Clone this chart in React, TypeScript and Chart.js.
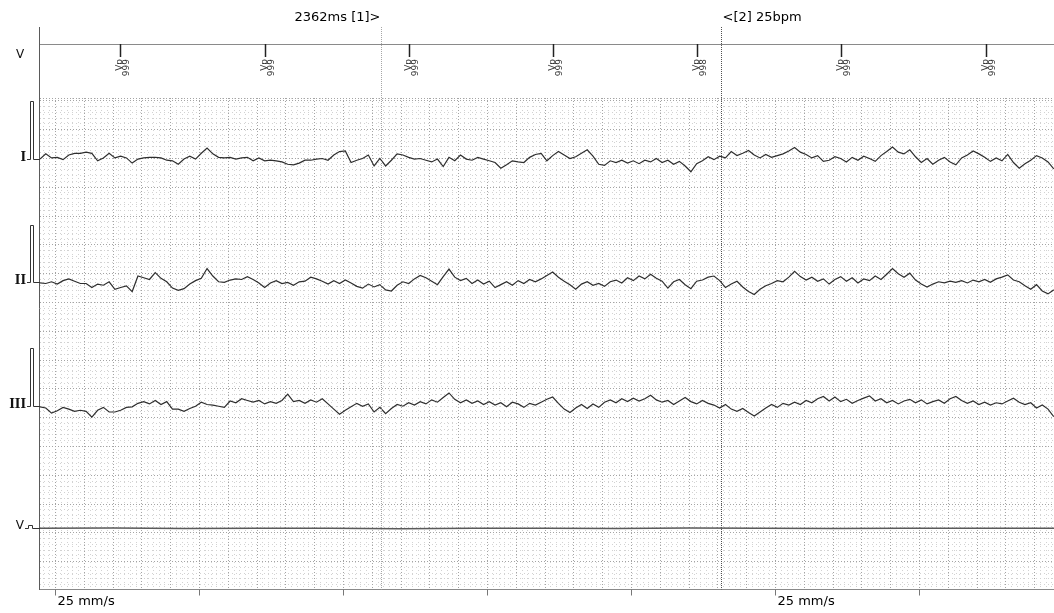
import React, { useEffect, useRef } from 'react';
import { Chart, registerables } from 'chart.js';

Chart.register(...registerables);

// ---------------- data ----------------
// ECG samples: one value every 0.04 s (1 mm at 25 mm/s), in mm (10 mm = 1 mV), up = positive
const SAMPLE_START_S = -0.104;
const SAMPLE_STEP_S = 0.04;

const leadI = [
  0, 0.9, 0.2, 0.3, -0.1, 0.7, 1.0, 1.0, 1.2, 1.0, -0.3, 0.2, 1.0, 0.2, 0.5, 0.2, -0.7, 0, 0.2, 0.3,
  0.3, 0.2, -0.2, -0.3, -0.9, 0, 0.5, 0, 1.0, 1.9, 0.9, 0.3, 0.2, 0.3, 0, 0.2, 0.3, -0.3, 0.2, -0.3,
  -0.2, -0.3, -0.5, -0.9, -1.0, -0.7,
  -0.2, -0.2, 0, 0.1, -0.2, 0.7, 1.3, 1.4, -0.6, -0.2, 0.1, 0.7, -1.2, 0.1, -1.2, -0.2, 0.9, 0.7, 0.3, 0,
  0.1, -0.2, -0.5, 0, -1.3, 0.3, -0.3, 0.7, 0, -0.2, 0.3, 0, -0.3, -0.6, -1.6, -1.0, -0.3, -0.5, -0.6, 0.3,
  0.8, 1.0, -0.3, 0.6, 1.3, 0.7, 0.1, 0.4, 1.0, 1.6, 0.5, -0.9,
  -1.1, -0.3, -0.6, -0.2, -0.7, -0.3, -0.8, -0.2, -0.5, 0.1, -0.6, -0.2, -0.9, -0.4, -1.2, -2.2, -0.8, -0.3, 0.4, -0.1,
  0.5, 0.2, 1.3, 0.6, 1.0, 1.5, 0.7, 0.2, 0.8, 0.3, 0.6, 0.9, 1.4, 2.0, 1.2, 0.8, 0.2, 0.6, -0.4, -0.2,
  0.4, 0.1, -0.5, 0.3, -0.2, 0.5, 0.1, -0.4, 0.6, 1.3, 2.1, 1.2, 0.9, 1.6, 0.4, -0.6, 0.1, -0.9, -0.2, 0.3,
  -0.5, -1.0, 0.2, 0.7, 1.4, 0.9, 0.3, -0.4, 0.2, -0.3, 0.8, -0.6, -1.6, -0.8, -0.2, 0.6, 0.2, -0.5, -1.7,
];

const leadII = [
  -0.1, -0.2, 0.1, -0.3, 0.3, 0.6, 0.2, -0.2, -0.2, -0.9, -0.3, -0.5, 0.1, -1.2, -0.9, -0.6, -1.6, 1.1, 0.8, 0.5,
  1.7, 0.7, 0.1, -1.0, -1.4, -1.1, -0.3, 0.3, 0.7, 2.4, 1.1, 0.1, 0, 0.4, 0.6, 0.5, 1.0, 0.5, -0.1, -0.9,
  -0.1, 0.3, -0.2, 0, -0.5, 0.1,
  0.2, 0.9, 0.6, 0.2, -0.3, 0.3, -0.2, 0.4, -0.1, -0.7, -1.0, -0.3, -0.8, -0.4, -1.3, -1.5, -0.5, 0.1, -0.2, 0.6,
  1.2, 0.8, 0.2, -0.4, 1.0, 2.3, 0.9, 0.3, 0.7, -0.2, 0.4, -0.3, 0.2, -0.9, -0.4, 0.1, -0.5, 0.3, -0.2, 0.5,
  0.1, 0.6, 1.2, 1.8, 0.9, 0.2, -0.4, -1.2, -0.3, 0.1, -0.5, -0.2,
  -0.7, 0.1, 0.4, -0.1, 0.8, 0.3, 1.1, 0.6, 1.4, 0.7, 0.2, -1.0, 0.1, 0.5, -0.4, -1.1, 0.2, 0.4, 0.9, 1.1,
  0.3, -0.9, -0.3, 0.2, -0.8, -1.6, -2.1, -1.2, -0.6, -0.2, 0.3, 0.1, 0.9, 1.9, 1.0, 0.4, 0.9, 0.2, 0.6, -0.3,
  0.5, 1.0, 0.2, 0.8, -0.1, 0.6, 0.3, 1.1, 0.5, 1.4, 2.4, 1.5, 0.9, 1.6, 0.4, -0.3, -0.8, -0.3, 0.1, -0.1,
  0.2, 0, 0.3, -0.1, 0.4, 0.1, 0.5, 0, 0.6, 0.9, 1.3, 0.4, 0.1, -0.6, -1.2, -0.4, -1.5, -2.0, -1.3,
];

const leadIII = [
  -0.2, -0.4, -1.3, -0.9, -0.3, -0.6, -1.0, -0.8, -1.0, -2.0, -0.8, -0.3, -1.1, -1.1, -0.8, -0.3, -0.2, 0.4, 0.7, 0.3,
  0.9, 0.2, 0.7, -0.6, -0.6, -1.0, -0.5, -0.1, 0.6, 0.2, 0.1, -0.1, -0.3, 0.8, 0.5, 1.2, 0.9, 0.6, 0.9, 0.3,
  0.7, 0.4, 0.9, 2.0, 0.7, 0.9,
  0.4, 1.0, 0.6, 1.2, 0.3, -0.6, -1.5, -0.8, -0.2, 0.4, -0.1, 0.3, -1.1, -0.3, -1.4, -0.5, 0.2, -0.1, 0.5, 0.1,
  0.7, 0.3, 1.0, 0.6, 1.4, 2.2, 1.1, 0.5, 1.0, 0.4, 0.8, 0.2, 0.7, 0.1, 0.5, -0.2, 0.6, 0.3, -0.3, 0.4,
  0.1, 0.6, 1.1, 1.5, 0.4, -0.6, -1.2, -0.4, 0.2, -0.5, 0.3, -0.3,
  0.6, 1.0, 0.5, 1.2, 0.7, 1.3, 0.8, 1.2, 1.8, 1.0, 0.6, 0.9, 0.2, 0.8, 1.4, 0.7, 0.3, 0.9, 0.4, 0.1,
  -0.4, 0.2, -0.6, -1.0, -0.5, -1.2, -1.8, -1.1, -0.4, 0.2, -0.3, 0.4, 0.1, 0.6, 0.2, 0.9, 0.5, 1.2, 1.6, 0.8,
  1.5, 0.7, 1.1, 0.4, 0.9, 1.3, 1.7, 0.8, 1.2, 0.5, 0.9, 0.3, 0.8, 1.1, 0.5, 1.0, 0.3, 0.7, 1.0, 0.4,
  1.2, 1.6, 0.9, 0.4, 0.8, 0.2, 0.6, 0.1, 0.5, 0.3, 0.8, 1.3, 0.6, 0.2, 0.5, -0.4, 0.1, -0.6, -1.9,
];

const leadVTimes = [-0.104, 0.4, 0.9, 1.4, 1.9, 2.4, 2.9, 3.4, 3.9, 4.4, 4.9, 5.4, 5.9, 6.4, 6.94];
const leadV = [0, 0.05, -0.04, 0.03, 0, -0.05, 0.04, 0, -0.03, 0.05, 0, -0.04, 0.03, 0, 0.02];

const leadNames = ['I', 'II', 'III', 'V'];
const markerChannelName = 'V';

const secondTicks = [0, 1, 2, 3, 4, 5, 6];
const speedLabelTicks = [0, 5];
const speedLabel = '25 mm/s';

const pacedTimes = [0.451, 1.458, 2.458, 3.458, 4.458, 5.458, 6.465];
const pacedEvent = 'Vp';
const pacedIntervals = ['999', '999', '999', '999', '998', '999', '999'];

const caliperTimes = [2.263, 4.625];
const caliperTexts = ['2362ms [1]>', '<[2] 25bpm'];

// ---------------- layout / style ----------------
const X_MIN = -15 / 144;
const X_MAX = 999 / 144;
const Y_MAX = 85.4;
const LEAD_BASE_MM = [74.8, 53.4, 32.0, 10.7];
const CAL_MM = 10;

const TRACE_COLOR = '#2e2e2e';

function line(ctx: CanvasRenderingContext2D, x1: number, y1: number, x2: number, y2: number) {
  ctx.beginPath();
  ctx.moveTo(x1, y1);
  ctx.lineTo(x2, y2);
  ctx.stroke();
}

const ecgPlugin = {
  id: 'ecgPaper',
  beforeDatasetsDraw(chart: any) {
    const { ctx, chartArea: a, scales } = chart;
    const x = scales.x;
    const y = scales.y;
    ctx.save();
    ctx.lineWidth = 1;
    const kMin = Math.ceil(X_MIN / 0.04 - 1e-6);
    const kMax = Math.floor(X_MAX / 0.04 + 1e-6);
    for (let pass = 0; pass < 2; pass++) {
      const major = pass === 1;
      ctx.strokeStyle = major ? '#a4a4a4' : '#d2d2d2';
      ctx.setLineDash(major ? [1, 2] : [1, 3]);
      ctx.beginPath();
      for (let k = kMin; k <= kMax; k++) {
        if ((Math.abs(k) % 5 === 0) !== major) continue;
        const px = Math.round(x.getPixelForValue(k * 0.04)) + 0.5;
        ctx.moveTo(px, a.top);
        ctx.lineTo(px, a.bottom);
      }
      for (let j = 1; j <= Math.floor(Y_MAX); j++) {
        if ((j % 5 === 0) !== major) continue;
        const py = Math.round(y.getPixelForValue(j)) + 0.5;
        ctx.moveTo(a.left, py);
        ctx.lineTo(a.right, py);
      }
      ctx.stroke();
    }
    ctx.strokeStyle = '#a4a4a4';
    ctx.setLineDash([1, 2]);
    line(ctx, a.left, Math.round(a.top) + 0.5, a.right, Math.round(a.top) + 0.5);
    ctx.restore();
  },
  afterDraw(chart: any) {
    const { ctx, chartArea: a, scales } = chart;
    const x = scales.x;
    const y = scales.y;
    const xp = (t: number) => Math.round(x.getPixelForValue(t)) + 0.5;
    ctx.save();
    ctx.lineWidth = 1;
    ctx.setLineDash([]);

    // axes frame
    const by = Math.round(y.getPixelForValue(0)) - 0.5;
    ctx.strokeStyle = '#5a5a5a';
    line(ctx, a.left - 0.5, 27, a.left - 0.5, by + 0.5);
    ctx.strokeStyle = '#8a8a8a';
    line(ctx, a.left, 44.5, a.right, 44.5);
    line(ctx, a.left, by, a.right, by);

    // second ticks
    ctx.strokeStyle = '#777';
    secondTicks.forEach((t) => line(ctx, xp(t), by, xp(t), by + 6));

    // speed labels
    ctx.fillStyle = '#000';
    ctx.font = '13px "DejaVu Sans", Verdana, sans-serif';
    ctx.textAlign = 'left';
    ctx.textBaseline = 'alphabetic';
    speedLabelTicks.forEach((t) => ctx.fillText(speedLabel, xp(t) + 2, 605));

    // calipers
    caliperTimes.forEach((t, i) => {
      ctx.strokeStyle = i === 0 ? '#a6a6a6' : '#505050';
      ctx.setLineDash([1, 1]);
      line(ctx, xp(t), 27, xp(t), by);
    });
    ctx.setLineDash([]);
    ctx.fillStyle = '#000';
    ctx.font = '13px "DejaVu Sans", Verdana, sans-serif';
    ctx.textAlign = 'right';
    ctx.fillText(caliperTexts[0], xp(caliperTimes[0]) - 1, 21);
    ctx.textAlign = 'left';
    ctx.fillText(caliperTexts[1], xp(caliperTimes[1]) + 1, 21);

    // paced events
    pacedTimes.forEach((t, i) => {
      const px = xp(t);
      ctx.strokeStyle = '#222';
      ctx.lineWidth = 1.5;
      line(ctx, px, 44, px, 57);
      ctx.save();
      ctx.translate(px, 59);
      ctx.rotate(-Math.PI / 2);
      ctx.font = '9px "DejaVu Sans", Verdana, sans-serif';
      ctx.fillStyle = '#333';
      ctx.textAlign = 'right';
      ctx.textBaseline = 'middle';
      ctx.fillText(pacedEvent, 0, -0.5);
      ctx.fillText(pacedIntervals[i], 0, 6);
      ctx.restore();
    });
    ctx.lineWidth = 1;

    // lead labels & calibration pulses
    leadNames.forEach((name, i) => {
      const base = Math.round(y.getPixelForValue(LEAD_BASE_MM[i])) + 0.5;
      ctx.fillStyle = '#111';
      ctx.textBaseline = 'alphabetic';
      ctx.textAlign = 'right';
      if (i < 3) {
        const top = Math.round(y.getPixelForValue(LEAD_BASE_MM[i] + CAL_MM)) + 0.5;
        ctx.font = 'bold 12px "DejaVu Serif", serif';
        ctx.fillText(name, 26, base + 1.5);
        ctx.strokeStyle = '#333';
        ctx.beginPath();
        ctx.moveTo(27, base);
        ctx.lineTo(30.5, base);
        ctx.lineTo(30.5, top);
        ctx.lineTo(33.5, top);
        ctx.lineTo(33.5, base);
        ctx.lineTo(a.left, base);
        ctx.stroke();
      } else {
        ctx.font = '12px "DejaVu Sans", Verdana, sans-serif';
        ctx.fillText(name, 24, base + 0.5);
        ctx.strokeStyle = '#333';
        ctx.beginPath();
        ctx.moveTo(25, base);
        ctx.lineTo(28.5, base);
        ctx.lineTo(28.5, base - 3);
        ctx.lineTo(32.5, base - 3);
        ctx.lineTo(32.5, base);
        ctx.lineTo(a.left, base);
        ctx.stroke();
      }
    });

    // marker channel label
    ctx.font = '12px "DejaVu Sans", Verdana, sans-serif';
    ctx.textAlign = 'center';
    ctx.textBaseline = 'middle';
    ctx.fillStyle = '#111';
    ctx.fillText(markerChannelName, 20, 55);
    ctx.restore();
  },
};

export default function App() {
  const ref = useRef<HTMLCanvasElement>(null);

  useEffect(() => {
    const leads = [leadI, leadII, leadIII];
    const datasets: any[] = leads.map((vals, i) => ({
      label: leadNames[i],
      data: vals.map((v, k) => ({ x: SAMPLE_START_S + k * SAMPLE_STEP_S, y: LEAD_BASE_MM[i] + v })),
      borderColor: TRACE_COLOR,
      borderWidth: 1.2,
      pointRadius: 0,
      tension: 0,
      fill: false,
    }));
    datasets.push({
      label: leadNames[3],
      data: leadV.map((v, k) => ({ x: leadVTimes[k], y: LEAD_BASE_MM[3] + v })),
      borderColor: '#5a5a5a',
      borderWidth: 1.5,
      pointRadius: 0,
      tension: 0,
      fill: false,
    });

    const chart = new Chart(ref.current as HTMLCanvasElement, {
      type: 'line',
      data: { datasets },
      options: {
        animation: false,
        responsive: false,
        maintainAspectRatio: false,
        events: [],
        layout: { padding: { left: 40, top: 98, right: 0, bottom: 23 } },
        plugins: { legend: { display: false }, tooltip: { enabled: false } },
        scales: {
          x: { type: 'linear', display: false, min: X_MIN, max: X_MAX },
          y: { type: 'linear', display: false, min: 0, max: Y_MAX },
        },
      },
      plugins: [ecgPlugin],
    });
    return () => chart.destroy();
  }, []);

  return (
    <div style={{ position: 'fixed', left: 0, top: 0, width: 1054, height: 613, background: '#fff' }}>
      <canvas ref={ref} width={1054} height={613} style={{ display: 'block' }} />
    </div>
  );
}
